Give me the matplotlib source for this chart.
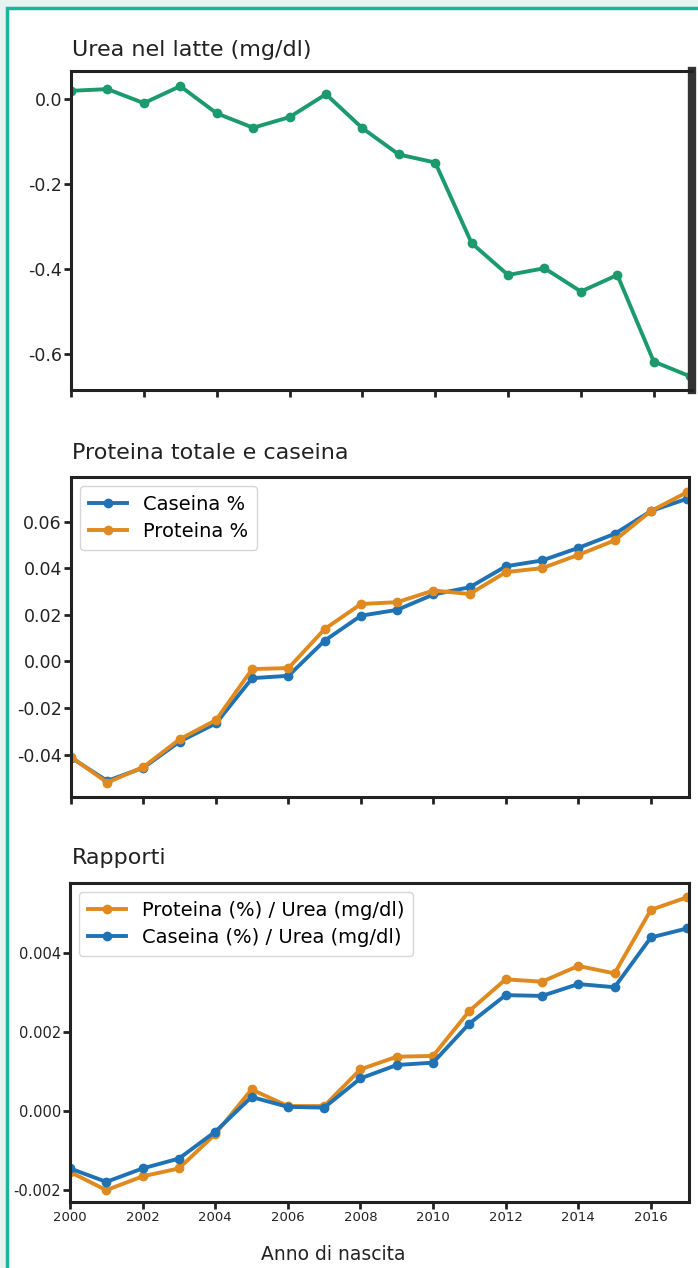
import matplotlib
matplotlib.use("Agg")
import matplotlib.pyplot as plt
from matplotlib.patches import Rectangle

plt.rcParams['font.family'] = ['DejaVu Sans']

# --- dati ---
anni = list(range(2000, 2018))

urea = [0.020, 0.024, -0.009, 0.031, -0.033, -0.067, -0.042, 0.012, -0.068,
        -0.130, -0.149, -0.339, -0.414, -0.398, -0.453, -0.414, -0.618, -0.653]

caseina = [-0.0413, -0.0513, -0.0456, -0.0344, -0.0266, -0.0072, -0.0062, 0.0089, 0.0196,
           0.0221, 0.0287, 0.0318, 0.0408, 0.0433, 0.0487, 0.0547, 0.0645, 0.0698]
proteina = [-0.0410, -0.0520, -0.0453, -0.0334, -0.0252, -0.0033, -0.0029, 0.0139, 0.0246,
            0.0254, 0.0304, 0.0289, 0.0383, 0.0400, 0.0457, 0.0519, 0.0645, 0.0726]

rap_proteina = [-0.00155, -0.00201, -0.00166, -0.00146, -0.00059, 0.00054, 0.00012, 0.00012, 0.00105,
                0.00137, 0.00139, 0.00253, 0.00333, 0.00327, 0.00367, 0.00348, 0.00509, 0.00541]
rap_caseina = [-0.00146, -0.00180, -0.00146, -0.00121, -0.00053, 0.00035, 0.00010, 0.00008, 0.00082,
               0.00116, 0.00122, 0.00221, 0.00293, 0.00291, 0.00321, 0.00313, 0.00439, 0.00462]

x_ticks = list(range(2000, 2017, 2))

VERDE = '#1b9a6d'
BLU = '#1f73b4'
ARANCIO = '#e0891f'
SCURO = '#222222'

W, H = 698, 1268
fig = plt.figure(figsize=(W / 100, H / 100), dpi=100)
fig.patch.set_facecolor('#e6f4f1')

# cornice teal (dietro gli assi)
cornice = Rectangle((7 / W, -0.05), 1.1, 1 - 7.5 / H + 0.05, transform=fig.transFigure,
                    facecolor='white', edgecolor='#1db39a', linewidth=2.5, zorder=-10)
fig.patches.append(cornice)


def box(l, t, r, b):
    return [l / W, 1 - b / H, (r - l) / W, (b - t) / H]


def stile(ax, yticks, ylab, show_x=False, tick_fs=12.5):
    ax.set_xlim(2000, 2017.05)
    ax.set_xticks(x_ticks)
    ax.set_yticks(yticks)
    ax.set_yticklabels(ylab, fontsize=tick_fs, color='#222222')
    if show_x:
        ax.set_xticklabels([str(a) for a in x_ticks], fontsize=9.5, color='#222222')
    else:
        ax.set_xticklabels([])
    ax.tick_params(direction='out', length=5, width=2, color=SCURO, pad=1.5)
    for s in ax.spines.values():
        s.set_linewidth(2.2)
        s.set_color(SCURO)
    ax.set_facecolor('white')


kw = dict(linewidth=2.8, marker='o', markersize=6)
leg_kw = dict(loc='upper left', fontsize=14, frameon=True, handlelength=2.0,
              borderaxespad=0.45, labelspacing=0.45, edgecolor='#cccccc', fancybox=True,
              handletextpad=0.8, borderpad=0.45)

# --- pannello 1: urea ---
ax1 = fig.add_axes(box(71, 71, 692, 390))
ax1.plot(anni, urea, color=VERDE, **kw)
ax1.set_ylim(-0.685, 0.0667)
stile(ax1, [0.0, -0.2, -0.4, -0.6], ['0.0', '-0.2', '-0.4', '-0.6'])
ax1.spines['right'].set_linewidth(6)
ax1.spines['right'].set_color('#333333')
fig.text(72 / W, 1 - 50 / H, 'Urea nel latte (mg/dl)', fontsize=16, va='center', ha='left',
         color='#222222')

# --- pannello 2: proteina e caseina ---
ax2 = fig.add_axes(box(71, 477, 689, 797))
ax2.plot(anni, caseina, color=BLU, label='Caseina %', **kw)
ax2.plot(anni, proteina, color=ARANCIO, label='Proteina %', **kw)
ax2.set_ylim(-0.0582, 0.0791)
stile(ax2, [0.06, 0.04, 0.02, 0.00, -0.02, -0.04],
      ['0.06', '0.04', '0.02', '0.00', '-0.02', '-0.04'])
ax2.legend(**leg_kw)
fig.text(72 / W, 1 - 453 / H, 'Proteina totale e caseina', fontsize=16, va='center', ha='left',
         color='#222222')

# --- pannello 3: rapporti ---
ax3 = fig.add_axes(box(70, 883, 689, 1202))
ax3.plot(anni, rap_proteina, color=ARANCIO, label='Proteina (%) / Urea (mg/dl)', **kw)
ax3.plot(anni, rap_caseina, color=BLU, label='Caseina (%) / Urea (mg/dl)', **kw)
ax3.set_ylim(-0.00231, 0.00577)
stile(ax3, [0.004, 0.002, 0.000, -0.002], ['0.004', '0.002', '0.000', '-0.002'],
      show_x=True, tick_fs=10.5)
ax3.legend(**leg_kw)
fig.text(72 / W, 1 - 858 / H, 'Rapporti', fontsize=16, va='center', ha='left', color='#222222')
fig.text(333 / W, 1 - 1255 / H, 'Anno di nascita', fontsize=13.5, va='center', ha='center',
         color='#222222')

fig.savefig('out.png', dpi=100, facecolor=fig.get_facecolor())
